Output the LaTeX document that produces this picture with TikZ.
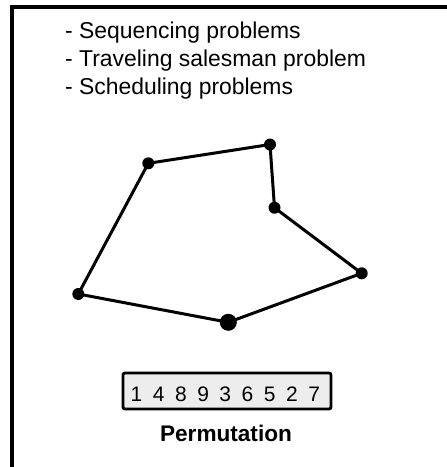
\documentclass[tikz,border=0pt]{standalone}
\usepackage{fontspec}
\setmainfont{Liberation Sans}
\begin{document}
\begin{tikzpicture}[x=1pt,y=-1pt,
  frame/.style={line width=3.8pt},
  tour/.style={line width=3pt, line join=round},
  city/.style={circle, fill=black, inner sep=0pt, minimum size=12pt},
  bigcity/.style={circle, fill=black, inner sep=0pt, minimum size=17pt},
  item/.style={anchor=base west, inner sep=0pt, font=\fontsize{22.9}{26}\selectfont},
  permbox/.style={draw, fill=black!7, line width=2.8pt, rounded corners=2pt,
    minimum width=208pt, minimum height=36pt, inner sep=0pt},
  caption/.style={anchor=base, inner sep=0pt, font=\fontsize{22.6}{26}\selectfont\bfseries}]
\useasboundingbox (0,0) rectangle (447,467);
% open frame: left and top edges
\coordinate (fbl) at (12,470);
\coordinate (ftl) at (12,7);
\coordinate (ftr) at (450,7);
\draw[frame] (fbl) -- (ftl) -- (ftr);
% list of problem classes
\node[item] (l1) at (65,38.3) {- Sequencing problems};
\node[item] (l2) at (65,66.5) {- Traveling salesman problem};
\node[item] (l3) at (65,94.8) {- Scheduling problems};
% tour through the cities
\node[city] (a) at (148.3,163.3) {};
\node[city] (b) at (270,144.5) {};
\node[city] (c) at (274.5,207.7) {};
\node[city] (d) at (361.7,273.3) {};
\node[bigcity] (e) at (228.3,322.3) {};
\node[city] (f) at (78.3,294) {};
\draw[tour] (a.center) -- (b.center) -- (c.center) -- (d.center) -- (e.center) -- (f.center) -- cycle;
% permutation encoding of the tour
\node[permbox] (perm) at (227,391) {};
\foreach \d [count=\i from 0] in {1,4,8,9,3,6,5,2,7}
  \node[anchor=base, inner sep=0pt, font=\fontsize{21}{24}\selectfont] (d\i) at (136.5+22.2*\i,401.5) {\d};
\node[caption] (cap) at (226,441.7) {Permutation};
\end{tikzpicture}
\end{document}
